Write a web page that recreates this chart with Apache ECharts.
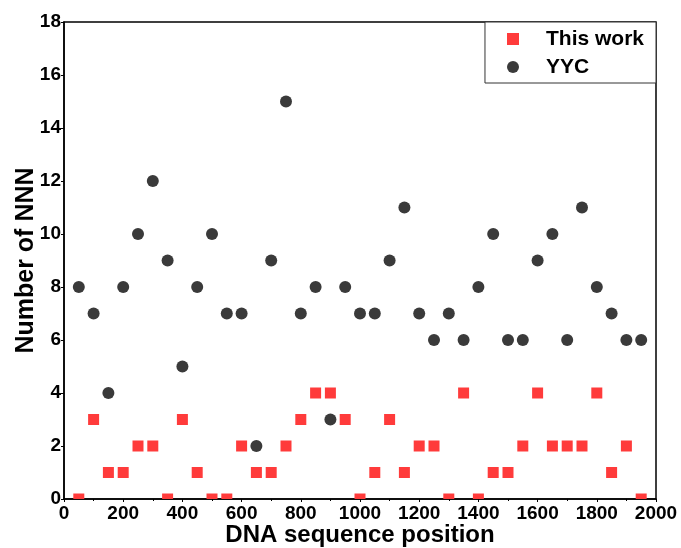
<!DOCTYPE html>
<html>
<head>
<meta charset="utf-8">
<script src="https://cdn.jsdelivr.net/npm/echarts@6/dist/echarts.min.js"></script>
<style>
html,body{margin:0;padding:0;background:#fff;}
#chart{width:681px;height:548px;}
</style>
</head>
<body>
<div id="chart"></div>
<script>
// positions along the DNA sequence
var positions = [50,100,150,200,250,300,350,400,450,500,550,600,650,700,750,800,850,900,950,1000,
	1050,1100,1150,1200,1250,1300,1350,1400,1450,1500,1550,1600,1650,1700,1750,1800,1850,1900,1950];
// this work
var thisWork = [0,3,1,1,2,2,0,3,1,0,0,2,1,1,2,3,4,4,3,0,
	1,3,1,2,2,0,4,0,1,1,2,4,2,2,2,4,1,2,0];
// YYC
var yyc = [8,7,4,8,10,12,9,5,8,10,7,7,2,9,15,7,8,3,8,7,
	7,9,11,7,6,7,6,8,10,6,6,9,10,6,11,8,7,6,6];

var font = '"Liberation Sans", Arial, sans-serif';

// points sitting on the x axis are cut in half by the frame
function toItems(vals, size){
	return vals.map(function(v,i){
		var item = {value:[positions[i], v]};
		if(v === 0){
			item.symbolSize = [size, size/2];
			item.symbolOffset = [0, -size/4];
		}
		return item;
	});
}

var chart = echarts.init(document.getElementById('chart'));
chart.setOption({
	animation:false,
	grid:{
		left:64, right:25, top:22, bottom:49,
		outerBoundsMode:'none',
		show:true, borderColor:'#000', borderWidth:1.5
	},
	legend:{
		orient:'vertical',
		right:25, top:22,
		backgroundColor:'#fff',
		borderColor:'#333', borderWidth:1,
		padding:[5,12,4,22],
		itemWidth:12, itemHeight:12, itemGap:4,
		textStyle:{fontFamily:font, fontWeight:'bold', fontSize:21, color:'#000', lineHeight:24, padding:[0,0,0,22]},
		data:[{name:'This work', icon:'rect'},{name:'YYC', icon:'circle'}]
	},
	xAxis:{
		type:'value', min:0, max:2000, interval:200,
		name:'DNA sequence position', nameLocation:'middle', nameGap:24, nameMoveOverlap:false,
		nameTextStyle:{fontFamily:font, fontWeight:'bold', fontSize:24, color:'#000'},
		axisLine:{lineStyle:{color:'#000', width:1.5}},
		axisTick:{show:true, length:3, lineStyle:{color:'#000'}},
		minorTick:{show:true, splitNumber:2, length:2, lineStyle:{color:'#000'}},
		axisLabel:{fontFamily:font, fontWeight:'bold', fontSize:19, color:'#000', margin:5,
			formatter:function(v){ return String(v); }},
		splitLine:{show:false}
	},
	yAxis:{
		type:'value', min:0, max:18, interval:2,
		name:'Number of NNN', nameLocation:'middle', nameGap:25, nameMoveOverlap:false,
		nameTextStyle:{fontFamily:font, fontWeight:'bold', fontSize:25, color:'#000'},
		axisLine:{show:true, lineStyle:{color:'#000', width:1.5}},
		axisTick:{show:true, length:3, lineStyle:{color:'#000'}},
		axisLabel:{fontFamily:font, fontWeight:'bold', fontSize:19, color:'#000', margin:3},
		splitLine:{show:false}
	},
	series:[
		{
			name:'This work', type:'scatter', symbol:'rect', symbolSize:11,
			itemStyle:{color:'#ff3b3b', opacity:1},
			data:toItems(thisWork, 11)
		},
		{
			name:'YYC', type:'scatter', symbol:'circle', symbolSize:12,
			itemStyle:{color:'#3a3a3a', opacity:1},
			data:toItems(yyc, 12)
		}
	]
});
</script>
</body>
</html>
